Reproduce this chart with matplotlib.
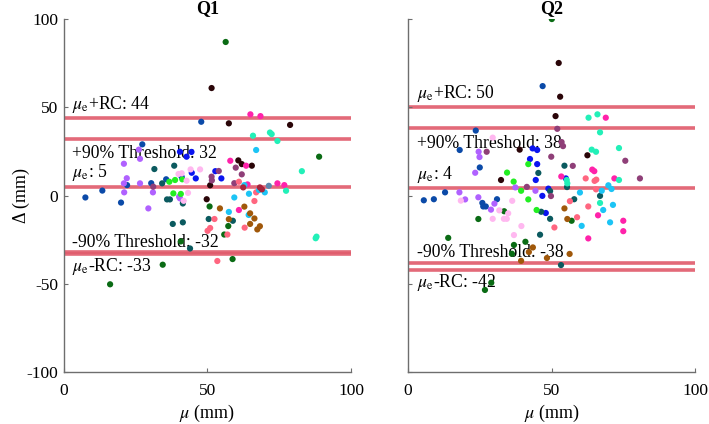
import numpy as np
import matplotlib
matplotlib.use("Agg")
import matplotlib.pyplot as plt

plt.rcParams["font.family"] = ["Liberation Serif", "DejaVu Serif"]
plt.rcParams["mathtext.fontset"] = "stix"
plt.rcParams["axes.unicode_minus"] = False

# subject colours
subject_colors = ["#0a6b14", "#2a0508", "#0a14f0", "#0b4aa8", "#b061ff",
                  "#0b5a5f", "#22ee22", "#ffb8f0", "#8f3f78", "#ff22aa",
                  "#ff6680", "#1cc4f5", "#22f0b8", "#a0580a", "#a8243c",
                  "#5d86ad"]

# Q1: (subject, mu, delta)
q1_subject = [0]*9 + [1]*8 + [2]*8 + [3]*8 + [4]*11 + [5]*11 + [6]*5 + [7]*7 \
    + [8]*7 + [9]*8 + [10]*9 + [11]*8 + [12]*8 + [13]*8 + [14]*3 + [15]
q1_mu = [56.4, 88.9, 50.8, 57.3, 55.9, 40.8, 58.8, 34.5, 16.2,
         51.5, 57.5, 78.8, 60.8, 62.0, 65.5, 51.0, 49.8,
         40.5, 42.8, 44.5, 44.6, 46.0, 52.8, 54.9, 41.1,
         47.9, 27.4, 22.1, 30.5, 13.5, 7.6, 20.0, 35.7,
         26.2, 26.6, 21.0, 22.0, 26.6, 21.0, 31.1, 21.1, 29.5, 40.2, 40.5,
         31.6, 38.5, 34.3, 36.0, 37.0, 41.5, 38.0, 41.5, 44.0, 50.5, 58.9,
         36.8, 38.8, 41.3, 38.2, 40.8,
         44.2, 47.5, 40.0, 41.1, 42.8, 43.3, 41.8,
         54.0, 51.5, 51.6, 59.9, 62.0, 59.4, 31.2,
         65.0, 68.5, 58.0, 63.5, 64.0, 74.4, 76.8, 61.0,
         61.0, 67.0, 66.4, 52.5, 51.0, 50.1, 57.0, 63.0, 53.5,
         67.0, 62.9, 64.5, 68.0, 70.0, 59.4, 57.5, 64.4,
         65.9, 71.8, 72.4, 74.4, 82.9, 77.4, 88.0, 87.7,
         54.4, 62.9, 64.9, 66.4, 64.9, 68.3, 67.4, 57.5,
         62.5, 68.3, 69.0,
         71.4]
q1_delta = [87.0, 22.0, -6.2, -17.3, -22.1, -26.0, -36.0, -39.2, -50.3,
            60.9, 40.9, 40.0, 19.9, 17.8, 16.9, 5.8, -2.1,
            24.8, 22.0, 24.7, 12.9, 9.7, 13.8, 9.7, 10.5,
            41.8, 29.0, 5.9, 7.0, 2.8, -1.1, -4.0, 9.2,
            26.0, 20.8, 18.0, 9.8, 6.9, 6.9, 1.8, 1.8, -7.3, -0.7, -1.6,
            15.0, 16.9, 6.9, -2.2, -2.2, -4.5, -16.1, -15.2, -30.0, -13.3, -14.3,
            7.8, 8.8, 9.2, 1.2, 0.9,
            14.8, 14.8, 12.2, 12.6, 8.4, 1.5, -3.0,
            13.9, 10.7, 8.6, 15.8, 12.0, 7.0, 5.0,
            46.0, 45.0, 19.7, 16.9, 6.3, 6.9, 5.9, -8.2,
            7.8, 1.8, -3.1, -13.3, -18.4, -20.0, -22.1, -18.2, -37.1,
            25.8, 5.9, 1.0, 3.1, 1.8, -1.1, -9.3, -11.0,
            33.9, 35.7, 34.8, 30.9, 13.8, 2.7, -23.3, -24.2,
            -7.3, -6.3, -10.1, -13.0, -16.1, -17.4, -19.2, -13.4,
            4.6, 4.6, 3.5,
            5.5]

# Q2: (subject, mu, delta)
q2_subject = [0]*10 + [1]*6 + [2]*9 + [3]*11 + [4]*10 + [5]*10 + [6]*6 \
    + [7]*10 + [8]*10 + [9]*9 + [10]*8 + [11]*8 + [12]*10 + [13]*7
q2_mu = [50.1, 24.5, 33.5, 57.0, 14.0, 36.9, 40.9, 36.2, 26.8, 29.0,
         52.5, 53.0, 51.4, 38.9, 62.5, 32.4,
         43.4, 45.0, 42.5, 45.0, 44.5, 55.0, 48.9, 46.8, 48.0,
         46.9, 23.6, 18.0, 25.0, 12.9, 9.0, 5.5, 25.9, 26.2, 27.1, 31.0,
         24.6, 24.9, 23.4, 37.4, 44.4, 17.9, 19.9, 30.1, 28.9, 24.5,
         54.5, 45.4, 49.5, 55.4, 57.9, 66.9, 46.4, 49.5, 46.0, 53.3,
         41.9, 34.5, 36.8, 39.4, 41.9, 44.8,
         29.5, 18.4, 36.3, 31.8, 34.9, 29.5, 33.4, 34.4, 39.5, 36.9,
         52.0, 53.5, 54.0, 27.4, 49.9, 57.4, 75.7, 80.8, 41.4, 49.8,
         68.9, 53.4, 64.2, 64.9, 71.9, 66.2, 75.0, 75.0, 62.8,
         61.9, 65.0, 65.6, 65.5, 56.4, 62.8, 58.9, 51.0,
         69.8, 70.9, 59.9, 67.5, 68.0, 71.4, 60.5, 70.4,
         62.9, 66.0, 66.9, 64.0, 65.5, 73.5, 55.3, 55.5, 73.5, 66.9,
         54.5, 55.5, 43.5, 42.1, 39.4, 48.4, 56.3]
q2_delta = [100.0, -13.3, -8.9, -14.3, -24.0, -28.0, -26.2, -33.0, -53.5, -49.4,
            75.1, 56.0, 45.0, 26.0, 22.8, 8.8,
            26.7, 25.8, 20.7, 17.8, 8.8, 9.7, 3.9, -0.2, -9.9,
            62.0, 36.8, 25.8, 15.9, 1.8, -2.1, -2.7, -4.2, -6.2, -6.2, -2.1,
            24.8, 21.8, 12.9, 4.6, 2.7, 1.8, -2.2, -4.6, -8.0, -1.0,
            16.9, 12.8, 2.5, 4.8, -2.1, -0.2, -9.2, -13.2, -22.2, -39.4,
            17.8, 13.0, 7.9, 2.7, -2.2, -8.2,
            32.8, -2.9, -3.0, -8.4, -10.1, -13.2, -13.2, -13.2, -17.3, -22.4,
            37.8, 30.3, 28.0, 24.8, 22.0, 16.8, 19.7, 9.7, 4.9, -0.3,
            44.1, 10.8, 14.7, 13.8, 9.7, -11.2, -14.3, -20.2, -24.3,
            9.7, 8.3, 9.0, 3.5, -3.2, -6.2, -12.3, -18.1,
            5.8, 3.7, 1.7, 2.7, -8.2, -5.3, -17.2, -15.2,
            44.1, 46.0, 35.8, 26.0, 24.8, 26.9, 8.8, 6.9, 8.8, -4.2,
            -7.3, -13.3, -29.4, -32.0, -37.0, -35.4, -33.1]

# limits of agreement: mean, +RC, -RC, +90%, -90%
q1_lines = [5, 44, -33, 32, -32]
q2_lines = [4, 50, -42, 38, -38]

line_color = "#e05a6a"
axis_color = "#6e6e6e"


def draw_panel(ax, title, mu, delta, subject, lines):
    m, up, lo, t_up, t_lo = lines
    for v in lines:
        ax.plot([0, 100], [v, v], color=line_color, lw=2.6, alpha=0.9, zorder=1)
    fs = 12.7
    ax.text(3, up + 5.2, r"$\mu_{\rm e}$+RC: %d" % up, fontsize=fs, zorder=2)
    ax.text(3, t_up - 11, "+90%% Threshold: %d" % t_up, fontsize=fs, zorder=2)
    ax.text(3, m + 5.5, r"$\mu_{\rm e}$: %d" % m, fontsize=fs, zorder=2)
    ax.text(3, t_lo + 3, "-90%% Threshold: %d" % t_lo, fontsize=fs, zorder=2)
    ax.text(3, lo - 10, r"$\mu_{\rm e}$-RC: %d" % lo, fontsize=fs, zorder=2)
    cols = [subject_colors[s] for s in subject]
    ax.scatter(mu, delta, s=20, c=cols, linewidths=0, zorder=3)
    ax.set_xlim(0, 100)
    ax.set_ylim(-100, 100)
    ax.set_xticks([0, 50, 100])
    ax.set_yticks([-100, -50, 0, 50, 100])
    ax.set_title(title, fontsize=13, fontweight="bold", pad=4)
    ax.set_xlabel(r"$\mu$ (mm)", fontsize=13, labelpad=3)
    for side in ["top", "right"]:
        ax.spines[side].set_visible(False)
    for side in ["left", "bottom"]:
        ax.spines[side].set_color(axis_color)
        ax.spines[side].set_linewidth(1.0)
    ax.tick_params(direction="in", length=3, width=0.8, color=axis_color,
                   labelsize=12.5)
    ax.tick_params(axis="x", pad=8)
    ax.tick_params(axis="y", pad=4)


fig = plt.figure(figsize=(7.09, 4.24), dpi=100)
ax1 = fig.add_axes([0.0896, 0.1226, 0.4055, 0.8325])
ax2 = fig.add_axes([0.5755, 0.1226, 0.4048, 0.8325])

draw_panel(ax1, "Q1", q1_mu, q1_delta, q1_subject, q1_lines)
draw_panel(ax2, "Q2", q2_mu, q2_delta, q2_subject, q2_lines)
ax1.set_ylabel("Δ (mm)", fontsize=13, labelpad=-2.5)
ax2.tick_params(labelleft=False)

fig.savefig("out.png", dpi=100)
